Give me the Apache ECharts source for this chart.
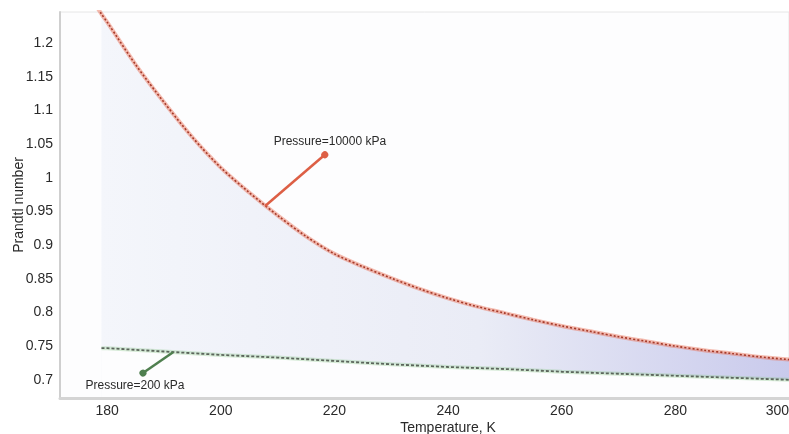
<!DOCTYPE html>
<html>
<head>
<meta charset="utf-8">
<script src="https://cdn.jsdelivr.net/npm/echarts@6/dist/echarts.min.js"></script>
<style>html,body{margin:0;padding:0;background:#fff}#c{width:789px;height:434px}</style>
</head>
<body>
<div id="c"></div>
<script>
// ---- data ----
const tempHigh = [178, 179, 180, 185, 190, 195, 200, 205, 210, 215, 220, 225, 230, 235, 240, 245, 250, 255, 260, 265, 270, 275, 280, 285, 290, 295, 300];
const prandtlHigh = [1.256, 1.243, 1.231, 1.168, 1.112, 1.060, 1.015, 0.978, 0.944, 0.913, 0.887, 0.868, 0.851, 0.835, 0.821, 0.809, 0.799, 0.789, 0.780, 0.772, 0.764, 0.757, 0.750, 0.744, 0.739, 0.734, 0.730];
const tempLow = [179, 180, 190, 200, 210, 220, 230, 240, 250, 260, 270, 280, 290, 300];
const prandtlLow = [0.747, 0.747, 0.742, 0.737, 0.733, 0.728, 0.723, 0.719, 0.716, 0.712, 0.709, 0.706, 0.703, 0.700];
const xTicks = [180, 200, 220, 240, 260, 280, 300];
const yTicks = [0.7, 0.75, 0.8, 0.85, 0.9, 0.95, 1, 1.05, 1.1, 1.15, 1.2];
const labelHigh = 'Pressure=10000 kPa';
const labelLow = 'Pressure=200 kPa';
// annotation anchor points (data units)
const annHigh = {from: [207.8, 0.958], to: [218.3, 1.034], text: [219.2, 1.053]};
const annLow = {from: [191.6, 0.741], to: [186.3, 0.710], text: [184.9, 0.692]};

const FONT = "'Liberation Sans', Arial, sans-serif";
const zip = (a, b) => a.map((v, i) => [v, b[i]]);
const highData = zip(tempHigh, prandtlHigh);
const lowData = zip(tempLow, prandtlLow);
const bandData = highData.filter(p => p[0] >= tempLow[0]);

const chart = echarts.init(document.getElementById('c'), null, {renderer: 'canvas'});
chart.setOption({
  animation: false,
  backgroundColor: '#ffffff',
  textStyle: {fontFamily: FONT},
  grid: {left: 60, right: 0, top: 12, bottom: 36, outerBoundsMode: 'none', containLabel: false,
    show: true, borderColor: '#e6e6e6', borderWidth: 1, backgroundColor: '#fdfdfe'},
  xAxis: {
    type: 'value', min: 171.7, max: 300, z: 10,
    name: 'Temperature, K', nameLocation: 'middle', nameGap: 23, nameMoveOverlap: false,
    nameTextStyle: {fontSize: 14, color: '#2a2a2a', fontFamily: FONT, padding: [0, 0, 0, 47]},
    axisLine: {show: true, lineStyle: {color: '#d4d4d4', width: 3}},
    axisTick: {show: false},
    splitLine: {show: false},
    axisLabel: {customValues: xTicks, fontSize: 14, color: '#2a2a2a', margin: 6, fontFamily: FONT, alignMaxLabel: 'right'}
  },
  yAxis: {
    type: 'value', min: 0.673, max: 1.246, z: 10,
    name: 'Prandtl number', nameLocation: 'middle', nameGap: 34, nameMoveOverlap: false,
    nameTextStyle: {fontSize: 14, color: '#2a2a2a', fontFamily: FONT},
    axisLine: {show: true, lineStyle: {color: '#cfcfcf', width: 2}},
    axisTick: {show: false},
    splitLine: {show: false},
    axisLabel: {customValues: yTicks, fontSize: 14, color: '#2a2a2a', margin: 7, fontFamily: FONT,
      formatter: v => String(+v.toFixed(2))}
  },
  series: [
    {
      name: 'band', type: 'line', data: bandData, symbol: 'none', smooth: 0.3, z: 1, silent: true,
      lineStyle: {width: 0},
      areaStyle: {origin: 'start', opacity: 1, color: new echarts.graphic.LinearGradient(0, 0, 1, 0, [
        {offset: 0, color: '#f4f6fb'}, {offset: 0.55, color: '#eaecf6'}, {offset: 1, color: '#c9caec'}])}
    },
    {
      name: 'mask', type: 'line', data: lowData, symbol: 'none', z: 2, silent: true,
      lineStyle: {width: 0},
      areaStyle: {origin: 'start', opacity: 1, color: '#fdfdfe'}
    },
    {
      name: 'highGlow', type: 'line', data: highData, symbol: 'none', smooth: 0.3, z: 3, silent: true,
      lineStyle: {width: 4, color: 'rgba(236,120,95,0.5)'}
    },
    {
      name: 'high', type: 'line', data: highData, symbol: 'none', smooth: 0.3, z: 4, silent: true,
      lineStyle: {width: 1.6, color: '#a63a28', type: [2, 2]},
      markLine: {
        silent: true, symbol: ['none', 'circle'], symbolSize: 7, label: {show: false},
        lineStyle: {color: '#dd5f45', width: 2.5, type: 'solid'},
        data: [[{coord: annHigh.from}, {coord: annHigh.to}]]
      },
      markPoint: {
        silent: true, symbol: 'circle', symbolSize: 1, itemStyle: {color: 'rgba(0,0,0,0)'},
        label: {show: true, position: 'inside', formatter: labelHigh, fontSize: 12, color: '#2a2a2a', fontFamily: FONT},
        data: [{coord: annHigh.text}]
      }
    },
    {
      name: 'lowGlow', type: 'line', data: lowData, symbol: 'none', z: 3, silent: true,
      lineStyle: {width: 4, color: 'rgba(140,200,140,0.35)'}
    },
    {
      name: 'low', type: 'line', data: lowData, symbol: 'none', z: 4, silent: true,
      lineStyle: {width: 1.8, color: '#5b655b', type: [3, 2]},
      markLine: {
        silent: true, symbol: ['none', 'circle'], symbolSize: 7, label: {show: false},
        lineStyle: {color: '#4f7f4f', width: 2.5, type: 'solid'},
        data: [[{coord: annLow.from}, {coord: annLow.to}]]
      },
      markPoint: {
        silent: true, symbol: 'circle', symbolSize: 1, itemStyle: {color: 'rgba(0,0,0,0)'},
        label: {show: true, position: 'inside', formatter: labelLow, fontSize: 12, color: '#2a2a2a', fontFamily: FONT},
        data: [{coord: annLow.text}]
      }
    }
  ]
});
</script>
</body>
</html>
